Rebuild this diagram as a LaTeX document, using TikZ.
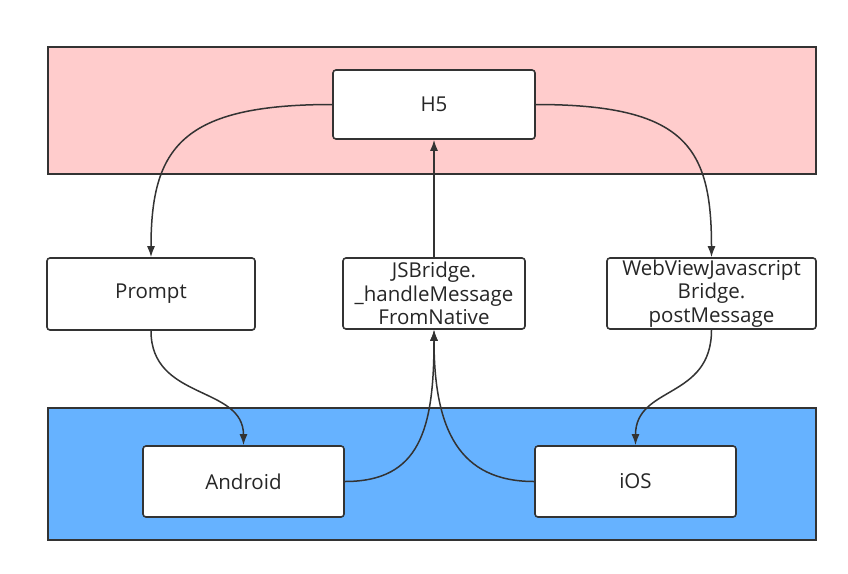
\documentclass[tikz,border=0pt]{standalone}
\usepackage{fontspec}
\setmainfont{Open Sans}
\usetikzlibrary{arrows.meta}
\definecolor{pinkbg}{HTML}{FFCCCC}
\definecolor{bluebg}{HTML}{66B2FF}
\definecolor{ink}{HTML}{333333}
\definecolor{txt}{HTML}{262626}
\begin{document}
\begin{tikzpicture}[x=1pt,y=-1pt,
  band/.style={draw=ink,line width=2pt},
  box/.style={draw=ink,line width=1.6pt,fill=white,rounded corners=3pt,inner sep=0pt,align=center,font=\fontsize{20.5}{23.5}\selectfont,text=txt},
  conn/.style={draw=ink,line width=1.5pt,-{Latex[length=11pt,width=8pt]}}]
\useasboundingbox (0,0) rectangle (848,573);
\fill[white] (0,0) rectangle (848,573);
\node[band,fill=pinkbg,minimum width=768pt,minimum height=127pt,inner sep=0pt] (top) at (432,110.5) {};
\node[band,fill=bluebg,minimum width=768pt,minimum height=132pt,inner sep=0pt] (bot) at (432,474) {};
\node[box,minimum width=202pt,minimum height=69pt] (h5) at (434,104.5) {H5};
\node[box,minimum width=208pt,minimum height=72pt] (prompt) at (151,294) {Prompt};
\node[box,minimum width=182pt,minimum height=71pt] (js) at (434,293.5) {JSBridge.\\\_handleMessage\\FromNative};
\node[box,minimum width=209pt,minimum height=71pt] (wv) at (711.5,293.5) {WebViewJavascript\\Bridge.\\postMessage};
\node[box,minimum width=201pt,minimum height=71pt] (android) at (243.5,481.5) {Android};
\node[box,minimum width=201pt,minimum height=71pt] (ios) at (635.5,481.5) {iOS};
\draw[conn] (h5.west) .. controls +(-150,0) and +(0,-110) .. (prompt.north);
\draw[conn] (h5.east) .. controls +(150,0) and +(0,-110) .. (wv.north);
\draw[conn] (js.north) -- (h5.south);
\draw[conn] (prompt.south) .. controls +(0,70) and +(0,-60) .. (android.north);
\draw[conn] (wv.south) .. controls +(0,70) and +(0,-60) .. (ios.north);
\draw[conn] (android.east) .. controls +(75,0) and +(0,100) .. (js.south);
\draw[conn] (ios.west) .. controls +(-75,0) and +(0,100) .. (js.south);
\end{tikzpicture}
\end{document}
